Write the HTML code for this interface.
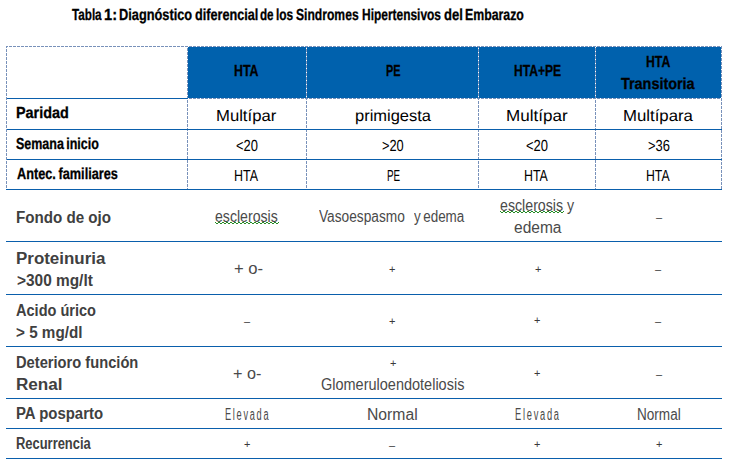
<!DOCTYPE html>
<html><head><meta charset="utf-8"><title>Tabla 1</title>
<style>
html,body{margin:0;padding:0;background:#fff;}
body{width:735px;height:467px;position:relative;overflow:hidden;}
.t{position:absolute;white-space:nowrap;line-height:30px;height:30px;font-family:"Liberation Sans", Arial, sans-serif;transform-origin:0 0;}
</style></head><body>
<div style='position:absolute;left:188px;top:47px;width:118px;height:51px;background:#0061AD'></div>
<div style='position:absolute;left:307px;top:47px;width:171px;height:51px;background:#0061AD'></div>
<div style='position:absolute;left:479px;top:47px;width:116px;height:51px;background:#0061AD'></div>
<div style='position:absolute;left:596px;top:47px;width:125px;height:51px;background:#0061AD'></div>
<div style='position:absolute;left:6px;top:46px;width:716px;height:1px;background:linear-gradient(to right,#7891BA 3px,#fff 3px);background-size:4px 1px;background-position:3px 0'></div>
<div style='position:absolute;left:188px;top:98px;width:533px;height:1px;background:linear-gradient(to right,#7891BA 3px,#fff 3px);background-size:4px 1px;background-position:1px 0'></div>
<div style='position:absolute;left:6px;top:46px;width:1px;height:144px;background:linear-gradient(to bottom,#7891BA 3px,#fff 3px);background-size:1px 4px;background-position:0 3px'></div>
<div style='position:absolute;left:187px;top:46px;width:1px;height:144px;background:linear-gradient(to bottom,#7891BA 3px,#fff 3px);background-size:1px 4px;background-position:0 2px'></div>
<div style='position:absolute;left:306px;top:46px;width:1px;height:144px;background:linear-gradient(to bottom,#7891BA 3px,#fff 3px);background-size:1px 4px;background-position:0 3px'></div>
<div style='position:absolute;left:478px;top:46px;width:1px;height:144px;background:linear-gradient(to bottom,#7891BA 3px,#fff 3px);background-size:1px 4px;background-position:0 3px'></div>
<div style='position:absolute;left:595px;top:46px;width:1px;height:144px;background:linear-gradient(to bottom,#7891BA 3px,#fff 3px);background-size:1px 4px;background-position:0 2px'></div>
<div style='position:absolute;left:721px;top:46px;width:1px;height:144px;background:linear-gradient(to bottom,#7891BA 3px,#fff 3px);background-size:1px 4px;background-position:0 0px'></div>
<div style='position:absolute;left:7px;top:98px;width:181px;height:1px;background:#0A5FAC'></div>
<div style='position:absolute;left:7px;top:129px;width:715px;height:1px;background:#0A5FAC'></div>
<div style='position:absolute;left:7px;top:159px;width:715px;height:1px;background:#0A5FAC'></div>
<div style='position:absolute;left:6px;top:189px;width:716px;height:1px;background:#0A5FAC'></div>
<div style='position:absolute;left:6px;top:241px;width:716px;height:1px;background:#0A5FAC'></div>
<div style='position:absolute;left:6px;top:294px;width:716px;height:1px;background:#0A5FAC'></div>
<div style='position:absolute;left:6px;top:346px;width:716px;height:1px;background:#0A5FAC'></div>
<div style='position:absolute;left:6px;top:398px;width:716px;height:1px;background:#0A5FAC'></div>
<div style='position:absolute;left:6px;top:428px;width:716px;height:1px;background:#0A5FAC'></div>
<div style='position:absolute;left:6px;top:458px;width:716px;height:1px;background:#0A5FAC'></div>
<svg style='position:absolute;left:0;top:0' width='735' height='467' shape-rendering='crispEdges'><g fill='#238B23'><rect x='215' y='222' width='1' height='1'/><rect x='216' y='223' width='1' height='1'/><rect x='217' y='223' width='1' height='1'/><rect x='218' y='222' width='1' height='1'/><rect x='219' y='222' width='1' height='1'/><rect x='220' y='223' width='1' height='1'/><rect x='221' y='223' width='1' height='1'/><rect x='222' y='222' width='1' height='1'/><rect x='223' y='222' width='1' height='1'/><rect x='224' y='223' width='1' height='1'/><rect x='225' y='223' width='1' height='1'/><rect x='226' y='222' width='1' height='1'/><rect x='227' y='222' width='1' height='1'/><rect x='228' y='223' width='1' height='1'/><rect x='229' y='223' width='1' height='1'/><rect x='230' y='222' width='1' height='1'/><rect x='231' y='222' width='1' height='1'/><rect x='232' y='223' width='1' height='1'/><rect x='233' y='223' width='1' height='1'/><rect x='234' y='222' width='1' height='1'/><rect x='235' y='222' width='1' height='1'/><rect x='236' y='223' width='1' height='1'/><rect x='237' y='223' width='1' height='1'/><rect x='238' y='222' width='1' height='1'/><rect x='239' y='222' width='1' height='1'/><rect x='240' y='223' width='1' height='1'/><rect x='241' y='223' width='1' height='1'/><rect x='242' y='222' width='1' height='1'/><rect x='243' y='222' width='1' height='1'/><rect x='244' y='223' width='1' height='1'/><rect x='245' y='223' width='1' height='1'/><rect x='246' y='222' width='1' height='1'/><rect x='247' y='222' width='1' height='1'/><rect x='248' y='223' width='1' height='1'/><rect x='249' y='223' width='1' height='1'/><rect x='250' y='222' width='1' height='1'/><rect x='251' y='222' width='1' height='1'/><rect x='252' y='223' width='1' height='1'/><rect x='253' y='223' width='1' height='1'/><rect x='254' y='222' width='1' height='1'/><rect x='255' y='222' width='1' height='1'/><rect x='256' y='223' width='1' height='1'/><rect x='257' y='223' width='1' height='1'/><rect x='258' y='222' width='1' height='1'/><rect x='259' y='222' width='1' height='1'/><rect x='260' y='223' width='1' height='1'/><rect x='261' y='223' width='1' height='1'/><rect x='262' y='222' width='1' height='1'/><rect x='263' y='222' width='1' height='1'/><rect x='264' y='223' width='1' height='1'/><rect x='265' y='223' width='1' height='1'/><rect x='266' y='222' width='1' height='1'/><rect x='267' y='222' width='1' height='1'/><rect x='268' y='223' width='1' height='1'/><rect x='269' y='223' width='1' height='1'/><rect x='270' y='222' width='1' height='1'/><rect x='271' y='222' width='1' height='1'/><rect x='272' y='223' width='1' height='1'/><rect x='273' y='223' width='1' height='1'/><rect x='274' y='222' width='1' height='1'/><rect x='275' y='222' width='1' height='1'/><rect x='276' y='223' width='1' height='1'/><rect x='277' y='223' width='1' height='1'/><rect x='278' y='222' width='1' height='1'/></g></svg>
<svg style='position:absolute;left:0;top:0' width='735' height='467' shape-rendering='crispEdges'><g fill='#238B23'><rect x='500' y='211' width='1' height='1'/><rect x='501' y='212' width='1' height='1'/><rect x='502' y='212' width='1' height='1'/><rect x='503' y='211' width='1' height='1'/><rect x='504' y='211' width='1' height='1'/><rect x='505' y='212' width='1' height='1'/><rect x='506' y='212' width='1' height='1'/><rect x='507' y='211' width='1' height='1'/><rect x='508' y='211' width='1' height='1'/><rect x='509' y='212' width='1' height='1'/><rect x='510' y='212' width='1' height='1'/><rect x='511' y='211' width='1' height='1'/><rect x='512' y='211' width='1' height='1'/><rect x='513' y='212' width='1' height='1'/><rect x='514' y='212' width='1' height='1'/><rect x='515' y='211' width='1' height='1'/><rect x='516' y='211' width='1' height='1'/><rect x='517' y='212' width='1' height='1'/><rect x='518' y='212' width='1' height='1'/><rect x='519' y='211' width='1' height='1'/><rect x='520' y='211' width='1' height='1'/><rect x='521' y='212' width='1' height='1'/><rect x='522' y='212' width='1' height='1'/><rect x='523' y='211' width='1' height='1'/><rect x='524' y='211' width='1' height='1'/><rect x='525' y='212' width='1' height='1'/><rect x='526' y='212' width='1' height='1'/><rect x='527' y='211' width='1' height='1'/><rect x='528' y='211' width='1' height='1'/><rect x='529' y='212' width='1' height='1'/><rect x='530' y='212' width='1' height='1'/><rect x='531' y='211' width='1' height='1'/><rect x='532' y='211' width='1' height='1'/><rect x='533' y='212' width='1' height='1'/><rect x='534' y='212' width='1' height='1'/><rect x='535' y='211' width='1' height='1'/><rect x='536' y='211' width='1' height='1'/><rect x='537' y='212' width='1' height='1'/><rect x='538' y='212' width='1' height='1'/><rect x='539' y='211' width='1' height='1'/><rect x='540' y='211' width='1' height='1'/><rect x='541' y='212' width='1' height='1'/><rect x='542' y='212' width='1' height='1'/><rect x='543' y='211' width='1' height='1'/><rect x='544' y='211' width='1' height='1'/><rect x='545' y='212' width='1' height='1'/><rect x='546' y='212' width='1' height='1'/><rect x='547' y='211' width='1' height='1'/><rect x='548' y='211' width='1' height='1'/><rect x='549' y='212' width='1' height='1'/><rect x='550' y='212' width='1' height='1'/><rect x='551' y='211' width='1' height='1'/><rect x='552' y='211' width='1' height='1'/><rect x='553' y='212' width='1' height='1'/><rect x='554' y='212' width='1' height='1'/><rect x='555' y='211' width='1' height='1'/><rect x='556' y='211' width='1' height='1'/><rect x='557' y='212' width='1' height='1'/><rect x='558' y='212' width='1' height='1'/><rect x='559' y='211' width='1' height='1'/><rect x='560' y='211' width='1' height='1'/><rect x='561' y='212' width='1' height='1'/><rect x='562' y='212' width='1' height='1'/><rect x='563' y='211' width='1' height='1'/></g></svg>
<div class='t' style='left:72.10px;top:1.00px;font-weight:700;font-size:16px;color:#000;text-rendering:geometricPrecision;-webkit-text-stroke:0.3px #000;transform:scaleX(0.7293)'>Tabla</div>
<div class='t' style='left:104.28px;top:1.00px;font-weight:700;font-size:16px;color:#000;text-rendering:geometricPrecision;-webkit-text-stroke:0.3px #000;transform:scaleX(0.9167)'>1:</div>
<div class='t' style='left:119.10px;top:1.00px;font-weight:700;font-size:16px;color:#000;text-rendering:geometricPrecision;-webkit-text-stroke:0.3px #000;transform:scaleX(0.7989)'>Diagnóstico</div>
<div class='t' style='left:195.10px;top:1.00px;font-weight:700;font-size:16px;color:#000;text-rendering:geometricPrecision;-webkit-text-stroke:0.3px #000;transform:scaleX(0.7911)'>diferencial</div>
<div class='t' style='left:260.40px;top:1.00px;font-weight:700;font-size:16px;color:#000;text-rendering:geometricPrecision;-webkit-text-stroke:0.3px #000;transform:scaleX(0.7278)'>de</div>
<div class='t' style='left:275.75px;top:1.00px;font-weight:700;font-size:16px;color:#000;text-rendering:geometricPrecision;-webkit-text-stroke:0.3px #000;transform:scaleX(0.7455)'>los</div>
<div class='t' style='left:296.10px;top:1.00px;font-weight:700;font-size:16px;color:#000;text-rendering:geometricPrecision;-webkit-text-stroke:0.3px #000;transform:scaleX(0.7573)'>Sindromes</div>
<div class='t' style='left:361.55px;top:1.00px;font-weight:700;font-size:16px;color:#000;text-rendering:geometricPrecision;-webkit-text-stroke:0.3px #000;transform:scaleX(0.7467)'>Hipertensivos</div>
<div class='t' style='left:444.00px;top:1.00px;font-weight:700;font-size:16px;color:#000;text-rendering:geometricPrecision;-webkit-text-stroke:0.3px #000;transform:scaleX(0.8136)'>del</div>
<div class='t' style='left:465.23px;top:1.00px;font-weight:700;font-size:16px;color:#000;text-rendering:geometricPrecision;-webkit-text-stroke:0.3px #000;transform:scaleX(0.7693)'>Embarazo</div>
<div class='t' style='left:234.03px;top:57.00px;font-weight:700;font-size:16px;color:#000;text-rendering:geometricPrecision;-webkit-text-stroke:0.3px #000;transform:scaleX(0.7710)'>HTA</div>
<div class='t' style='left:386.22px;top:57.00px;font-weight:700;font-size:16px;color:#000;text-rendering:geometricPrecision;-webkit-text-stroke:0.3px #000;transform:scaleX(0.6800)'>PE</div>
<div class='t' style='left:513.65px;top:57.00px;font-weight:700;font-size:16px;color:#000;text-rendering:geometricPrecision;-webkit-text-stroke:0.3px #000;transform:scaleX(0.7541)'>HTA+PE</div>
<div class='t' style='left:645.84px;top:48.00px;font-weight:700;font-size:16px;color:#000;text-rendering:geometricPrecision;-webkit-text-stroke:0.3px #000;transform:scaleX(0.7645)'>HTA</div>
<div class='t' style='left:621.40px;top:70.00px;font-weight:700;font-size:16px;color:#000;text-rendering:geometricPrecision;-webkit-text-stroke:0.3px #000;transform:scaleX(0.9000)'>Transitoria</div>
<div class='t' style='left:16.10px;top:99.00px;font-weight:700;font-size:16px;color:#000;text-rendering:geometricPrecision;-webkit-text-stroke:0.3px #000;transform:scaleX(0.9000)'>Paridad</div>
<div class='t' style='left:216.16px;top:102.00px;font-weight:400;font-size:16px;color:#000;text-rendering:geometricPrecision;transform:scaleX(1.0421)'>Multípar</div>
<div class='t' style='left:354.67px;top:102.00px;font-weight:400;font-size:16px;color:#000;text-rendering:geometricPrecision;transform:scaleX(1.0301)'>primigesta</div>
<div class='t' style='left:505.93px;top:102.00px;font-weight:400;font-size:16px;color:#000;text-rendering:geometricPrecision;transform:scaleX(1.0667)'>Multípar</div>
<div class='t' style='left:622.75px;top:102.00px;font-weight:400;font-size:16px;color:#000;text-rendering:geometricPrecision;transform:scaleX(1.0485)'>Multípara</div>
<div class='t' style='left:16.40px;top:130.00px;font-weight:700;font-size:16px;color:#000;text-rendering:geometricPrecision;word-spacing:-1.5px;-webkit-text-stroke:0.3px #000;transform:scaleX(0.7802)'>Semana inicio</div>
<div class='t' style='left:236.10px;top:132.00px;font-weight:400;font-size:16px;color:#000;text-rendering:geometricPrecision;transform:scaleX(0.8074)'>&lt;20</div>
<div class='t' style='left:382.10px;top:132.00px;font-weight:400;font-size:16px;color:#000;text-rendering:geometricPrecision;transform:scaleX(0.8000)'>&gt;20</div>
<div class='t' style='left:526.40px;top:132.00px;font-weight:400;font-size:16px;color:#000;text-rendering:geometricPrecision;transform:scaleX(0.8111)'>&lt;20</div>
<div class='t' style='left:647.50px;top:132.00px;font-weight:400;font-size:16px;color:#000;text-rendering:geometricPrecision;transform:scaleX(0.8074)'>&gt;36</div>
<div class='t' style='left:16.50px;top:160.00px;font-weight:700;font-size:16px;color:#000;text-rendering:geometricPrecision;word-spacing:-1.2px;-webkit-text-stroke:0.3px #000;transform:scaleX(0.7953)'>Antec. familiares</div>
<div class='t' style='left:234.22px;top:162.00px;font-weight:400;font-size:16px;color:#000;text-rendering:geometricPrecision;transform:scaleX(0.7800)'>HTA</div>
<div class='t' style='left:387.19px;top:162.00px;font-weight:400;font-size:16px;color:#000;text-rendering:geometricPrecision;transform:scaleX(0.6150)'>PE</div>
<div class='t' style='left:524.33px;top:162.00px;font-weight:400;font-size:16px;color:#000;text-rendering:geometricPrecision;transform:scaleX(0.7733)'>HTA</div>
<div class='t' style='left:646.23px;top:162.00px;font-weight:400;font-size:16px;color:#000;text-rendering:geometricPrecision;transform:scaleX(0.7667)'>HTA</div>
<div class='t' style='left:15.75px;top:203.00px;font-weight:700;font-size:16px;color:#404040;text-rendering:auto;transform:scaleX(0.9465)'>Fondo de ojo</div>
<div class='t' style='left:215.20px;top:202.00px;font-weight:400;font-size:16px;color:#4a4a4a;text-rendering:auto;transform:scaleX(0.8817)'>esclerosis</div>
<div class='t' style='left:319.30px;top:202.00px;font-weight:400;font-size:16px;color:#4a4a4a;text-rendering:auto;transform:scaleX(0.8560)'>Vasoespasmo</div>
<div class='t' style='left:414.20px;top:202.00px;font-weight:400;font-size:16px;color:#4a4a4a;text-rendering:auto;word-spacing:-1.5px;transform:scaleX(0.8400)'>y edema</div>
<div class='t' style='left:500.10px;top:191.00px;font-weight:400;font-size:16px;color:#4a4a4a;text-rendering:auto;transform:scaleX(0.8869)'>esclerosis y</div>
<div class='t' style='left:513.60px;top:213.00px;font-weight:400;font-size:16px;color:#4a4a4a;text-rendering:auto;transform:scaleX(0.9694)'>edema</div>
<div class='t' style='left:656.00px;top:202.00px;font-weight:400;font-size:11px;color:#3a3a3a;text-rendering:auto;transform:scaleX(1.0000)'>–</div>
<div class='t' style='left:16.04px;top:244.00px;font-weight:700;font-size:16px;color:#404040;text-rendering:auto;transform:scaleX(1.0583)'>Proteinuria</div>
<div class='t' style='left:16.50px;top:266.00px;font-weight:700;font-size:16px;color:#404040;text-rendering:auto;transform:scaleX(0.9633)'>&gt;300 mg/lt</div>
<div class='t' style='left:233.50px;top:254.00px;font-weight:400;font-size:16px;color:#4a4a4a;text-rendering:auto;transform:scaleX(1.0393)'>+ o-</div>
<div class='t' style='left:389.00px;top:254.00px;font-weight:400;font-size:11px;color:#3a3a3a;text-rendering:auto;transform:scaleX(1.0000)'>+</div>
<div class='t' style='left:535.00px;top:254.00px;font-weight:400;font-size:11px;color:#3a3a3a;text-rendering:auto;transform:scaleX(1.0000)'>+</div>
<div class='t' style='left:655.00px;top:254.00px;font-weight:400;font-size:11px;color:#3a3a3a;text-rendering:auto;transform:scaleX(1.0000)'>–</div>
<div class='t' style='left:16.20px;top:296.00px;font-weight:700;font-size:16px;color:#404040;text-rendering:auto;transform:scaleX(0.9091)'>Acido úrico</div>
<div class='t' style='left:16.20px;top:318.00px;font-weight:700;font-size:16px;color:#404040;text-rendering:auto;transform:scaleX(0.9522)'>&gt; 5 mg/dl</div>
<div class='t' style='left:244.00px;top:306.00px;font-weight:400;font-size:11px;color:#3a3a3a;text-rendering:auto;transform:scaleX(1.0000)'>–</div>
<div class='t' style='left:389.00px;top:306.00px;font-weight:400;font-size:11px;color:#3a3a3a;text-rendering:auto;transform:scaleX(1.0000)'>+</div>
<div class='t' style='left:534.00px;top:305.00px;font-weight:400;font-size:11px;color:#3a3a3a;text-rendering:auto;transform:scaleX(1.0000)'>+</div>
<div class='t' style='left:655.00px;top:306.00px;font-weight:400;font-size:11px;color:#3a3a3a;text-rendering:auto;transform:scaleX(1.0000)'>–</div>
<div class='t' style='left:16.18px;top:348.00px;font-weight:700;font-size:16px;color:#404040;text-rendering:auto;transform:scaleX(0.9174)'>Deterioro función</div>
<div class='t' style='left:16.03px;top:370.00px;font-weight:700;font-size:16px;color:#404040;text-rendering:auto;transform:scaleX(1.0690)'>Renal</div>
<div class='t' style='left:233.40px;top:359.00px;font-weight:400;font-size:16px;color:#4a4a4a;text-rendering:auto;transform:scaleX(1.0107)'>+ o-</div>
<div class='t' style='left:390.00px;top:348.00px;font-weight:400;font-size:11px;color:#3a3a3a;text-rendering:auto;transform:scaleX(1.0000)'>+</div>
<div class='t' style='left:320.59px;top:370.00px;font-weight:400;font-size:16px;color:#4a4a4a;text-rendering:auto;transform:scaleX(0.9057)'>Glomeruloendoteliosis</div>
<div class='t' style='left:534.00px;top:358.00px;font-weight:400;font-size:11px;color:#3a3a3a;text-rendering:auto;transform:scaleX(1.0000)'>+</div>
<div class='t' style='left:656.00px;top:359.00px;font-weight:400;font-size:11px;color:#3a3a3a;text-rendering:auto;transform:scaleX(1.0000)'>–</div>
<div class='t' style='left:16.17px;top:399.00px;font-weight:700;font-size:16px;color:#404040;text-rendering:auto;transform:scaleX(0.9326)'>PA posparto</div>
<div class='t' style='left:224.83px;top:400.00px;font-weight:400;font-size:16px;color:#4a4a4a;text-rendering:auto;letter-spacing:3px;transform:scaleX(0.5747)'>Elevada</div>
<div class='t' style='left:366.52px;top:400.00px;font-weight:400;font-size:16px;color:#4a4a4a;text-rendering:auto;transform:scaleX(0.9820)'>Normal</div>
<div class='t' style='left:514.52px;top:400.00px;font-weight:400;font-size:16px;color:#4a4a4a;text-rendering:auto;letter-spacing:3px;transform:scaleX(0.5800)'>Elevada</div>
<div class='t' style='left:636.95px;top:400.00px;font-weight:400;font-size:16px;color:#4a4a4a;text-rendering:auto;transform:scaleX(0.8480)'>Normal</div>
<div class='t' style='left:15.99px;top:429.00px;font-weight:700;font-size:16px;color:#404040;text-rendering:auto;transform:scaleX(0.8076)'>Recurrencia</div>
<div class='t' style='left:244.00px;top:429.00px;font-weight:400;font-size:11px;color:#3a3a3a;text-rendering:auto;transform:scaleX(1.0000)'>+</div>
<div class='t' style='left:389.00px;top:430.00px;font-weight:400;font-size:11px;color:#3a3a3a;text-rendering:auto;transform:scaleX(1.0000)'>–</div>
<div class='t' style='left:534.00px;top:429.00px;font-weight:400;font-size:11px;color:#3a3a3a;text-rendering:auto;transform:scaleX(1.0000)'>+</div>
<div class='t' style='left:656.00px;top:429.00px;font-weight:400;font-size:11px;color:#3a3a3a;text-rendering:auto;transform:scaleX(1.0000)'>+</div>
</body></html>
